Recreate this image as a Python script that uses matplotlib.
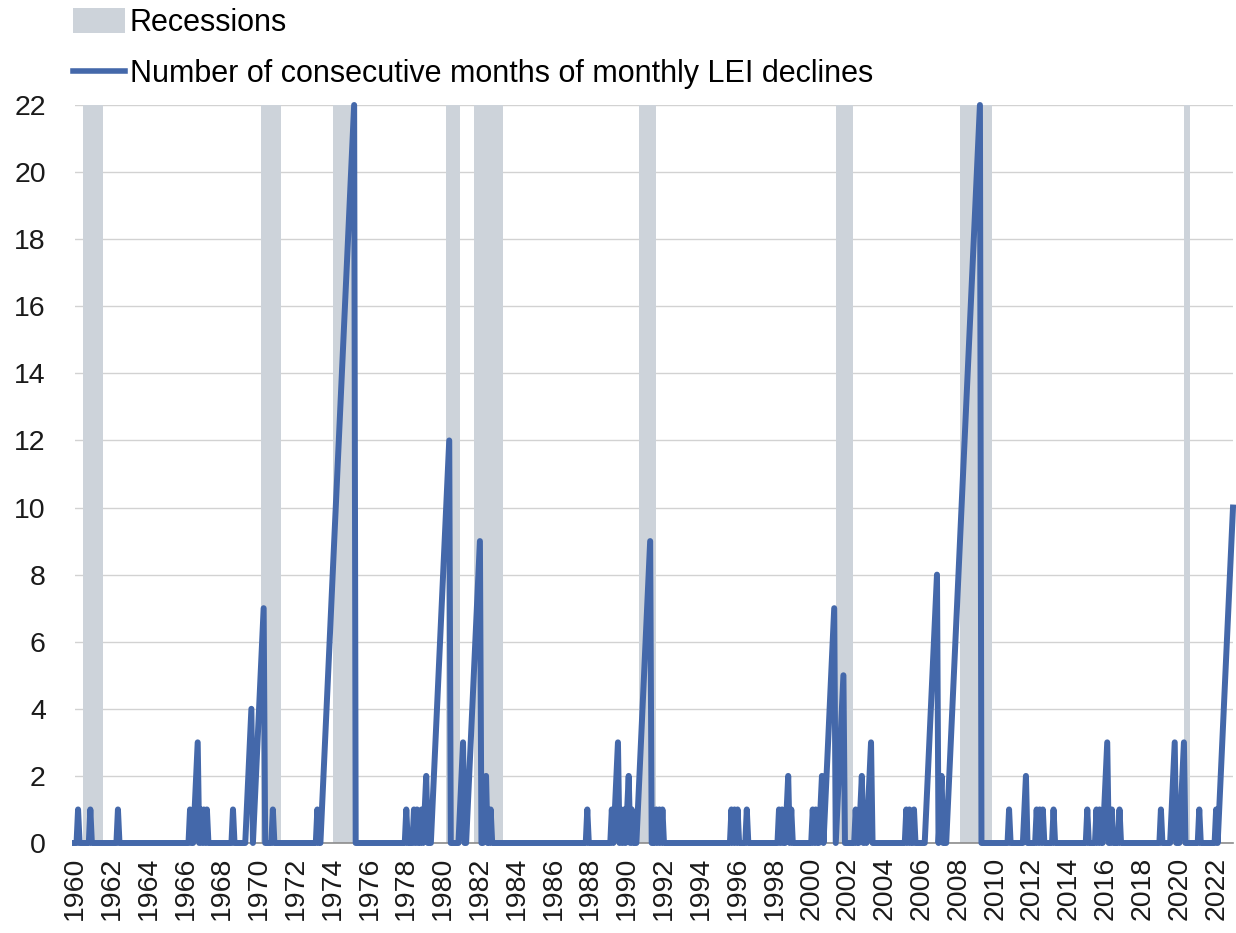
import pandas as pd
import matplotlib
matplotlib.use("Agg")
import matplotlib.pyplot as plt
from matplotlib.patches import Patch
from matplotlib.lines import Line2D

plt.rcParams["font.family"] = ["Liberation Sans", "DejaVu Sans"]

# streaks of monthly LEI declines: (year, month of first decline, months in a row)
decline_streaks = [
    (1960, 3, 1), (1960, 11, 1), (1962, 5, 1),
    (1966, 4, 1), (1966, 7, 3), (1966, 11, 1), (1967, 1, 1), (1967, 3, 1),
    (1968, 8, 1), (1969, 5, 4), (1969, 10, 7), (1970, 10, 1),
    (1973, 3, 1), (1973, 6, 22),
    (1978, 1, 1), (1978, 6, 1), (1978, 8, 1), (1978, 11, 1), (1979, 1, 2),
    (1979, 6, 12), (1980, 12, 3), (1981, 5, 9), (1982, 4, 2), (1982, 8, 1),
    (1987, 11, 1),
    (1989, 3, 1), (1989, 5, 3), (1989, 9, 1), (1989, 11, 1), (1990, 1, 2),
    (1990, 4, 1), (1990, 8, 9), (1991, 8, 1), (1991, 10, 1), (1991, 12, 1),
    (1995, 9, 1), (1995, 11, 1), (1996, 1, 1), (1996, 7, 1),
    (1998, 4, 1), (1998, 6, 1), (1998, 9, 2), (1998, 12, 1),
    (2000, 2, 1), (2000, 4, 1), (2000, 7, 2), (2000, 10, 7), (2001, 6, 5),
    (2002, 6, 1), (2002, 9, 2), (2002, 12, 1), (2003, 2, 3),
    (2005, 3, 1), (2005, 5, 1), (2005, 8, 1), (2006, 4, 8), (2007, 1, 2),
    (2007, 6, 22),
    (2010, 10, 1), (2011, 8, 2), (2012, 4, 1), (2012, 6, 1), (2012, 8, 1),
    (2013, 3, 1), (2015, 1, 1), (2015, 7, 1), (2015, 9, 1), (2015, 12, 3),
    (2016, 5, 1), (2016, 10, 1),
    (2019, 1, 1), (2019, 8, 3), (2020, 2, 3), (2021, 2, 1),
    (2022, 1, 1), (2022, 3, 10),
]

# shaded recession bars as drawn on the chart (first month, last month)
recessions = [
    ("1960-06", "1961-07"), ("1970-02", "1971-03"), ("1974-01", "1975-04"),
    ("1980-03", "1980-12"), ("1981-09", "1983-04"), ("1990-09", "1991-08"),
    ("2001-05", "2002-04"), ("2008-02", "2009-11"), ("2020-04", "2020-08"),
]

year_ticks = list(range(1960, 2023, 2))
y_ticks = list(range(0, 23, 2))

months = pd.period_range("1960-01", "2022-12", freq="M")
streak = pd.Series(0, index=months)
for year, month, length in decline_streaks:
    first = pd.Period(f"{year}-{month:02d}", freq="M")
    for k in range(length):
        streak[first + k] = k + 1


def to_year(p):
    return p.year + (p.month - 1) / 12


x = [to_year(p) for p in months]

blue = "#4468AA"
grey = "#CDD3DA"

fig = plt.figure(figsize=(12.36, 9.33), dpi=100)
ax = fig.add_axes([75 / 1236, 90 / 933, 1158 / 1236, 738 / 933])

for start, end in recessions:
    ax.axvspan(to_year(pd.Period(start, freq="M")), to_year(pd.Period(end, freq="M")),
               color=grey, lw=0, zorder=1)

ax.plot(x, streak.values, color=blue, lw=4.3, solid_joinstyle="round",
        clip_on=False, zorder=3)

ax.set_xlim(x[0], x[-1])
ax.set_ylim(0, 22)
ax.set_xticks(year_ticks)
ax.set_xticklabels([str(y) for y in year_ticks], rotation=90)
ax.set_yticks(y_ticks)
ax.grid(axis="y", color="#D2D2D2", lw=1)
ax.set_axisbelow(True)
for side in ["top", "right", "left"]:
    ax.spines[side].set_visible(False)
ax.spines["bottom"].set_color("#8C8C8C")
ax.spines["bottom"].set_linewidth(1.2)
ax.tick_params(axis="both", length=0, labelsize=20.5, colors="#1A1A1A")
ax.tick_params(axis="y", pad=21)
ax.tick_params(axis="x", pad=10)

handles = [Patch(facecolor=grey, edgecolor="none"), Line2D([], [], color=blue, lw=4)]
labels = ["Recessions", "Number of consecutive months of monthly LEI declines"]
fig.legend(handles, labels, loc="upper left", bbox_to_anchor=(73 / 1236, 1 - 8 / 933),
           frameon=False, borderpad=0, borderaxespad=0, fontsize=22,
           handlelength=1.7, handleheight=0.85, handletextpad=0.15, labelspacing=0.7)

fig.savefig("out.png", dpi=100)
